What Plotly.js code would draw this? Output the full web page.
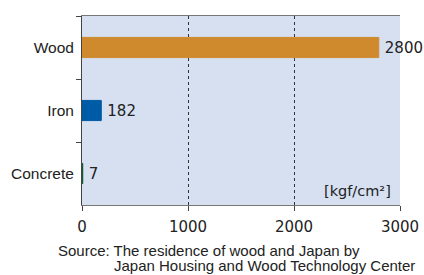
<!DOCTYPE html>
<html>
<head>
<meta charset="utf-8">
<script src="https://cdn.plot.ly/plotly-3.0.1.min.js"></script>
<style>html,body{margin:0;padding:0;background:#fff;}#chart{width:424px;height:275px;}</style>
</head>
<body>
<div id="chart"></div>
<script>
var categories = ["Wood", "Iron", "Concrete"];
var values = [2800, 182, 7];
var barColors = ["#CF8A2E", "#005BA6", "#0B5A2A"];
var xTicks = [0, 1000, 2000, 3000];
var unitLabel = "[kgf/cm²]";
var sourceLine1 = "Source: The residence of wood and Japan by";
var sourceLine2 = "Japan Housing and Wood Technology Center";

var numFont = "'DejaVu Sans', sans-serif";
var txtFont = "'Liberation Sans', Arial, sans-serif";

var trace = {
  type: "bar",
  orientation: "h",
  y: categories,
  x: values,
  width: 0.32,
  marker: {color: barColors, line: {color: barColors, width: 1}},
  text: values.map(function (v) { return "\u2009" + v; }),
  textposition: "outside",
  cliponaxis: false,
  textfont: {family: numFont, size: 15, color: "#222"},
  hoverinfo: "none"
};

var layout = {
  width: 424, height: 275,
  margin: {l: 82, r: 24, t: 16, b: 70},
  paper_bgcolor: "#fff",
  plot_bgcolor: "#D6E0F1",
  showlegend: false,
  font: {family: txtFont, color: "#222"},
  xaxis: {
    range: [0, 3000],
    tickvals: xTicks,
    ticktext: xTicks.map(String),
    showgrid: true,
    gridcolor: "#333",
    griddash: "dot",
    gridwidth: 1,
    zeroline: false,
    showline: true,
    mirror: true,
    linecolor: "#777",
    linewidth: 1,
    ticks: "outside",
    ticklen: 5,
    tickcolor: "#444",
    ticklabelstandoff: 3,
    tickfont: {family: numFont, size: 15, color: "#222"},
    fixedrange: true
  },
  yaxis: {
    autorange: "reversed",
    showline: true,
    linecolor: "#444",
    linewidth: 1,
    ticks: "outside",
    tickson: "boundaries",
    ticklen: 5,
    tickcolor: "#444",
    showgrid: false,
    ticklabelstandoff: 4,
    tickfont: {family: txtFont, size: 15.5, color: "#222"},
    fixedrange: true
  },
  annotations: [
    {text: unitLabel, xref: "paper", yref: "paper", x: 0.977, y: 0.02, xanchor: "right", yanchor: "bottom",
     showarrow: false, font: {family: numFont, size: 14.5, color: "#222"}},
    {text: sourceLine1, xref: "paper", yref: "paper", x: -0.083, y: -0.185, xanchor: "left", yanchor: "top",
     showarrow: false, font: {family: txtFont, size: 15, color: "#222"}},
    {text: sourceLine2, xref: "paper", yref: "paper", x: 0.093, y: -0.262, xanchor: "left", yanchor: "top",
     showarrow: false, font: {family: txtFont, size: 15, color: "#222"}}
  ]
};

Plotly.newPlot("chart", [trace], layout, {displayModeBar: false, staticPlot: true});
</script>
</body>
</html>
